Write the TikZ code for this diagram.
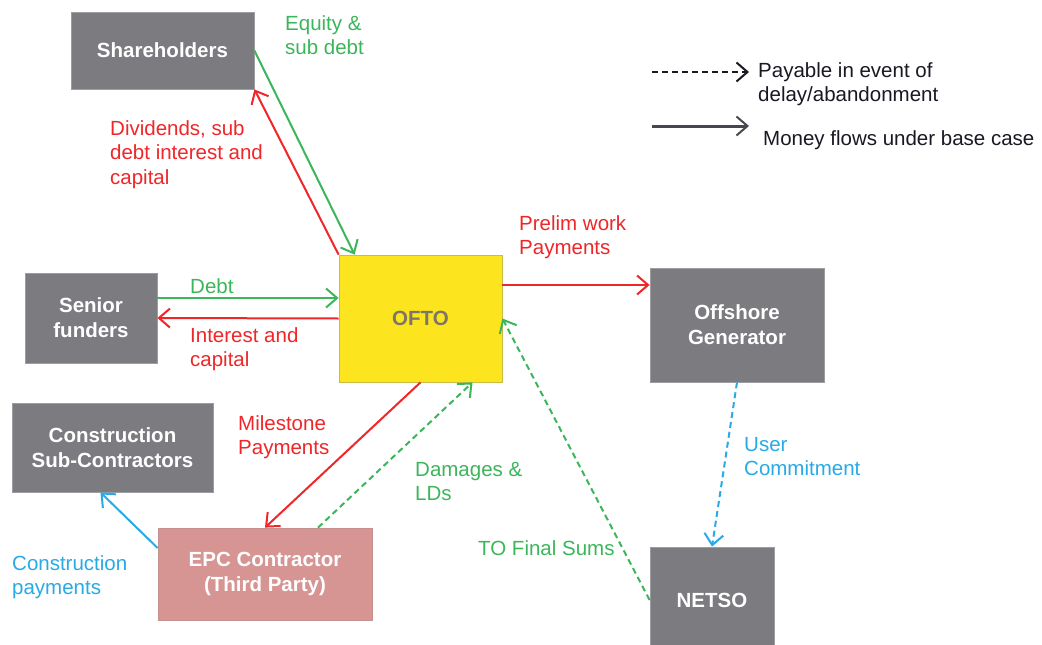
\documentclass[tikz,border=0pt]{standalone}
\usepackage{fontspec}
\setmainfont{Liberation Sans}
\usetikzlibrary{arrows.meta}
\definecolor{boxgray}{RGB}{124,123,128}
\definecolor{cred}{RGB}{240,38,40}
\definecolor{cgreen}{RGB}{60,182,90}
\definecolor{cblue}{RGB}{40,170,230}
\definecolor{cyellow}{RGB}{252,228,30}
\definecolor{cpink}{RGB}{214,149,146}
\definecolor{oftotext}{RGB}{125,118,100}
\definecolor{legtext}{RGB}{25,25,35}
\begin{document}
\begin{tikzpicture}[x=1pt,y=-1pt,
  every node/.style={font=\fontsize{20.5}{24.5}\selectfont},
  box/.style={rectangle, fill=boxgray, draw=boxgray!75!white, line width=0.8pt, text=white,
    font=\fontsize{20.5}{25}\selectfont\bfseries, align=center, inner sep=0pt},
  lbl/.style={anchor=north west, inner sep=0pt, align=left},
  flow/.style={line width=2pt, -{Straight Barb[length=11pt,width=19pt,line width=2pt]}},
  dflow/.style={flow, dash pattern=on 6pt off 4pt},
]
\useasboundingbox[fill=white] (0,0) rectangle (1042,645);

% nodes
\node[box, minimum width=183pt, minimum height=77pt] (sh) at (162.5,50.5) {Shareholders};
\node[box, minimum width=132pt, minimum height=90pt] (sf) at (91,318) {Senior\\funders};
\node[box, fill=cyellow, draw=cyellow!60!gray, text=oftotext, minimum width=163pt, minimum height=127pt] (ofto) at (420.5,318.5) {OFTO};
\node[box, minimum width=201pt, minimum height=89pt] (csc) at (112.5,447.5) {Construction\\Sub-Contractors};
\node[box, fill=cpink, draw=cpink!80!gray, minimum width=214pt, minimum height=92pt] (epc) at (265,574) {EPC Contractor\\(Third Party)};
\node[box, minimum width=174pt, minimum height=114pt] (gen) at (737,325) {Offshore\\Generator};
\node[box, minimum width=124pt, minimum height=106pt] (netso) at (712,600) {NETSO};

% helper coordinates
\coordinate (pr) at (0,285);
\coordinate (db) at (0,298);
\coordinate (l1a) at (652,72);
\coordinate (l1b) at (749,72);
\coordinate (l2a) at (652,126);
\coordinate (l2b) at (749,126);

% connectors
\draw[flow, cgreen] (sh.east) -- ([xshift=16pt]ofto.north west);
\draw[flow, cred] (ofto.north west) -- (sh.south east);
\draw[flow, cgreen] (sf.east |- db) -- (ofto.west |- db);
\draw[flow, cred] (ofto.west) -- (sf.east);
\draw[flow, cred] (ofto.east |- pr) -- (gen.west |- pr);
\draw[flow, cred] (ofto.south) -- (epc.north);
\draw[dflow, cgreen] ([xshift=53pt]epc.north) -- ([xshift=52pt]ofto.south);
\draw[flow, cblue] ([yshift=26pt]epc.west) -- ([xshift=-12pt]csc.south);
\draw[dflow, cblue] (gen.south) -- (netso.north);
\draw[dflow, cgreen] (netso.west) -- (ofto.east);

% legend
\draw[dflow, legtext, line width=1.8pt] (l1a) -- (l1b);
\draw[flow, legtext!80!white, line width=3pt] (l2a) -- (l2b);
\node[lbl, text=legtext] (lg1) at (758,62) {Payable in event of\\delay/abandonment};
\node[lbl, text=legtext] (lg2) at (763,130) {Money flows under base case};

% labels
\node[lbl, text=cgreen] (t1) at (285,15) {Equity \&\\sub debt};
\node[lbl, text=cred] (t2) at (110,120) {Dividends, sub\\debt interest and\\capital};
\node[lbl, text=cgreen] (t3) at (190,278) {Debt};
\node[lbl, text=cred] (t4) at (190,327) {Interest and\\capital};
\node[lbl, text=cred] (t5) at (519,215) {Prelim work\\Payments};
\node[lbl, text=cred] (t6) at (238,415) {Milestone\\Payments};
\node[lbl, text=cgreen] (t7) at (415,462) {Damages \&\\LDs};
\node[lbl, text=cblue] (t8) at (12,555) {Construction\\payments};
\node[lbl, text=cgreen] (t9) at (478,540) {TO Final Sums};
\node[lbl, text=cblue] (t10) at (744,437) {User\\Commitment};
\end{tikzpicture}
\end{document}
